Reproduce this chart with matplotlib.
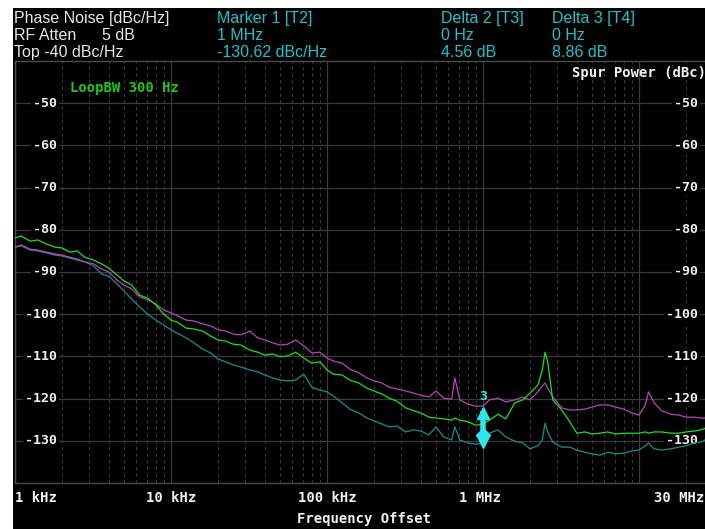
import matplotlib
matplotlib.use("Agg")
import matplotlib.pyplot as plt
import matplotlib.transforms as mtransforms

# ---------------- data ----------------
freq_hz = [
    1000, 1100, 1250, 1400, 1600, 1800, 2000, 2250, 2500, 2800,
    3200, 3600, 4000, 4500, 5000, 5600, 6300, 7100, 8000, 9000,
    10e3, 11e3, 12.5e3, 14e3, 16e3, 18e3, 20e3, 22.5e3, 25e3, 28e3,
    32e3, 36e3, 40e3, 45e3, 50e3, 56e3, 63e3, 71e3, 80e3, 90e3,
    100e3, 110e3, 125e3, 140e3, 160e3, 180e3, 200e3, 225e3, 250e3, 280e3,
    320e3, 360e3, 400e3, 450e3, 500e3, 560e3, 630e3, 660e3, 710e3, 800e3, 900e3,
    1e6, 1.1e6, 1.25e6, 1.4e6, 1.6e6, 1.8e6, 2e6, 2.25e6, 2.4e6, 2.5e6, 2.6e6,
    2.8e6, 3.2e6, 3.6e6, 4e6, 4.5e6, 5e6, 5.6e6, 6.3e6, 7.1e6, 8e6, 9e6,
    10e6, 11e6, 11.5e6, 12.5e6, 14e6, 16e6, 18e6, 20e6, 22.5e6, 25e6, 28e6, 30e6,
]

# Trace 3 (green)
trace_green = [
    -81.9, -81.5, -82.7, -82.4, -83.4, -84.1, -84.3, -85.3, -85.0, -86.5,
    -87.2, -88.1, -89.1, -90.7, -92.1, -93.1, -95.5, -96.2, -97.8, -100.0,
    -101.4, -101.9, -103.3, -103.5, -104.0, -105.2, -106.1, -106.4, -107.1, -107.3,
    -108.5, -109.0, -109.7, -109.4, -110.1, -109.9, -109.0, -110.4, -111.6, -111.3,
    -113.2, -114.2, -114.4, -115.6, -116.3, -117.5, -118.2, -118.9, -119.9, -120.6,
    -122.2, -122.9, -123.4, -124.4, -124.6, -124.8, -125.1, -124.6, -125.1, -125.5, -126.3,
    -126.06, -125.1, -123.7, -124.8, -121.0, -120.3, -118.7, -116.8, -113.2, -109.0, -111.3,
    -120.3, -122.7, -125.5, -128.2, -127.9, -128.4, -128.2, -127.9, -128.4, -128.2, -128.2,
    -128.2, -127.9, -128.2, -127.9, -127.9, -128.2, -128.2, -127.9, -127.7, -127.4, -126.7, -127.0,
]

# Trace 4 (magenta)
trace_magenta = [
    -84.1, -83.6, -84.6, -84.8, -85.3, -85.7, -86.0, -86.5, -86.9, -87.6,
    -88.1, -89.3, -90.0, -91.9, -93.1, -94.0, -95.9, -96.6, -97.6, -99.0,
    -99.7, -100.4, -101.4, -101.6, -102.3, -102.8, -103.7, -104.0, -104.7, -104.9,
    -104.0, -105.6, -106.1, -106.8, -107.3, -107.1, -106.1, -107.5, -109.2, -109.0,
    -110.4, -111.1, -111.6, -113.0, -113.9, -115.1, -115.8, -116.3, -117.3, -117.7,
    -118.2, -118.7, -119.2, -119.6, -118.2, -119.9, -120.1, -115.1, -120.3, -121.3, -121.8,
    -121.76, -120.3, -119.9, -120.8, -120.3, -119.6, -120.3, -118.4, -117.0, -116.3, -117.5,
    -119.6, -122.2, -122.7, -122.7, -122.5, -122.0, -121.5, -121.5, -122.0, -122.5, -123.4,
    -123.9, -121.5, -118.4, -121.0, -122.9, -123.7, -123.9, -124.4, -124.4, -124.6, -124.6, -124.8,
]

# Trace 2 (teal)
trace_teal = [
    -84.1, -83.8, -84.8, -85.0, -85.5, -86.0, -86.2, -86.7, -87.2, -87.6,
    -88.6, -90.5, -91.0, -92.8, -94.5, -96.4, -98.3, -100.0, -101.4, -102.6,
    -103.7, -104.5, -105.6, -106.8, -108.3, -109.2, -110.6, -111.3, -112.0, -112.5,
    -113.2, -113.7, -114.4, -115.1, -115.6, -115.8, -115.6, -114.2, -117.3, -118.0,
    -118.4, -119.4, -121.0, -122.5, -123.4, -124.6, -125.3, -126.0, -126.7, -126.5,
    -127.9, -127.4, -127.7, -128.6, -126.7, -129.1, -129.8, -126.7, -129.8, -130.5, -130.8,
    -130.62, -128.2, -127.4, -129.1, -130.1, -130.5, -131.9, -131.2, -129.8, -125.8, -127.9,
    -130.3, -131.5, -131.5, -132.2, -132.7, -133.1, -133.4, -132.7, -133.1, -132.9, -132.4,
    -132.2, -131.2, -130.5, -131.9, -132.2, -131.9, -131.5, -131.2, -130.5, -130.3, -129.3, -128.9,
]

marker_freq = 1e6
marker_levels = [-130.62, -126.06, -121.76]   # M1 (T2), D2 (T3), D3 (T4)

y_ticks = [-50, -60, -70, -80, -90, -100, -110, -120, -130]
x_tick_vals = [1e3, 1e4, 1e5, 1e6, 30e6]
x_tick_labels = ["1 kHz", "10 kHz", "100 kHz", "1 MHz", "30 MHz"]

header_left = ["Phase Noise [dBc/Hz]", "RF Atten", "Top -40 dBc/Hz"]
marker_col = ["Marker 1 [T2]", "1 MHz", "-130.62 dBc/Hz"]
delta2_col = ["Delta 2 [T3]", "0 Hz", "4.56 dB"]
delta3_col = ["Delta 3 [T4]", "0 Hz", "8.86 dB"]

# ---------------- figure ----------------
W, H = 705, 529
fig = plt.figure(figsize=(W / 100, H / 100), dpi=100, facecolor="white")

bg = fig.add_axes([13 / W, 0, (W - 13) / W, (H - 8) / H])
bg.set_facecolor("black")
bg.set_xticks([]); bg.set_yticks([])
for s in bg.spines.values():
    s.set_visible(False)

ax = fig.add_axes([15 / W, (H - 483) / H, 698.4 / W, 422 / H])
ax.set_facecolor("black")
ax.set_xscale("log")
ax.set_xlim(1e3, 30e6)
ax.set_ylim(-140, -40)
ax.tick_params(which="both", length=0, labelbottom=False, labelleft=False)
ax.minorticks_off()
for s in ax.spines.values():
    s.set_color("#4a4a4a")
    s.set_linewidth(1.0)

grid_c = "#3a3a3a"
for d in [1e3, 1e4, 1e5, 1e6, 1e7]:
    ax.axvline(d, color=grid_c, lw=0.9, zorder=1)
    for m in range(2, 10):
        if m * d <= 30e6:
            ax.axvline(m * d, color=grid_c, lw=0.8, ls=(0, (3, 3)), zorder=1)
for v in range(-130, -40, 10):
    ax.axhline(v, color=grid_c, lw=0.9, zorder=1)

ax.plot(freq_hz, trace_teal, color="#1f8c8c", lw=0.9, zorder=3)
ax.plot(freq_hz, trace_magenta, color="#b548b5", lw=0.9, zorder=4)
ax.plot(freq_hz, trace_green, color="#22dd22", lw=0.9, zorder=5)

# marker symbols
cyan = "#2ee6ea"
ax.plot([marker_freq, marker_freq], [marker_levels[2] - 1.2, marker_levels[0]],
        color=cyan, lw=4, zorder=6, solid_capstyle="butt")
ax.plot([marker_freq], [marker_levels[2] - 1.6], marker="^", ms=9, color=cyan,
        mec=cyan, zorder=7)
ax.plot([marker_freq], [marker_levels[1] - 2.5], marker="D", ms=7, color=cyan,
        mec=cyan, zorder=7)
ax.plot([marker_freq], [marker_levels[0] + 0.3], marker="v", ms=8, color=cyan,
        mec=cyan, zorder=7)
ax.text(marker_freq, -119.6, "3", color=cyan, fontsize=9.5, ha="center",
        va="center", family="DejaVu Sans Mono", fontweight="bold", zorder=7)

mono = dict(family="DejaVu Sans Mono", fontweight="bold", color="#f2f2f2")
box = dict(facecolor="black", edgecolor="none", pad=1.5)

# y tick labels (left and right, inside plot)
ytr = mtransforms.blended_transform_factory(ax.transAxes, ax.transData)
for v in y_ticks:
    ax.text((57 - 15) / 698.4, v, str(v), transform=ytr,
            ha="right", va="center", fontsize=9.5, bbox=box, zorder=2, **mono)
    ax.text((698 - 15) / 698.4, v, str(v), transform=ytr,
            ha="right", va="center", fontsize=9.5, bbox=box, zorder=2, **mono)

# x tick labels
xpix = {1e3: (15, "left"), 1e4: (171, "center"), 1e5: (327, "center"),
        1e6: (480, "center"), 30e6: (704, "right")}
for val, lab in zip(x_tick_vals, x_tick_labels):
    px, ha = xpix[val]
    fig.text(px / W, 1 - 498 / H, lab, ha=ha, va="center", fontsize=10, **mono)

fig.text(364 / W, 1 - 519 / H, "Frequency Offset", ha="center", va="center",
         fontsize=10, **mono)
fig.text(572 / W, 1 - 73 / H, "Spur Power (dBc)", ha="left", va="center",
         fontsize=10, **mono)
fig.text(70 / W, 1 - 88 / H, "LoopBW 300 Hz", ha="left", va="center",
         fontsize=10, family="DejaVu Sans Mono", fontweight="bold", color="#22c422")

# header
sans = dict(family="Liberation Sans", fontsize=11.5)
baselines = [23.3, 39.5, 57]
for t, yb in zip(header_left, baselines):
    fig.text(14 / W, 1 - yb / H, t, ha="left", va="baseline", color="#e8e8e8", **sans)
fig.text(102 / W, 1 - baselines[1] / H, "5 dB", ha="left", va="baseline", color="#e8e8e8", **sans)
hc = "#22c2c8"
for col, x0 in [(marker_col, 217), (delta2_col, 441), (delta3_col, 552)]:
    for t, yb in zip(col, baselines):
        fig.text(x0 / W, 1 - yb / H, t, ha="left", va="baseline", color=hc, **sans)

fig.savefig("out.png", dpi=100, facecolor="white")
